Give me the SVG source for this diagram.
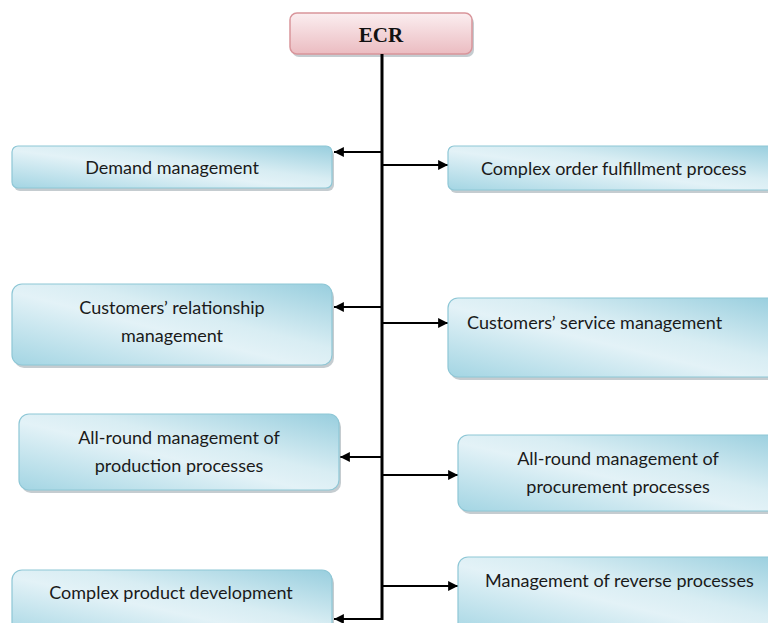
<svg xmlns="http://www.w3.org/2000/svg" width="768" height="623" viewBox="0 0 768 623">
<style>
.box{fill:url(#blue);stroke:#8ec7d6;stroke-width:1.2}
.sh{fill:#7f8f96;opacity:0.45}
.t{font-family:Lato,"Open Sans","Liberation Sans",sans-serif;font-size:18px;fill:#1a1a1a}
.c{text-anchor:middle}
.ln{stroke:#000;stroke-width:3;fill:none}
.ar{stroke:#000;stroke-width:2.2;fill:none;marker-end:url(#ah)}
</style>
<defs>
<linearGradient id="blue" x1="0" y1="1" x2="1" y2="0">
<stop offset="0" stop-color="#a3d5e3"/>
<stop offset="0.45" stop-color="#e3f2f7"/>
<stop offset="0.6" stop-color="#d8edf3"/>
<stop offset="1" stop-color="#98cede"/>
</linearGradient>
<linearGradient id="pink" x1="0" y1="0" x2="0" y2="1">
<stop offset="0" stop-color="#fbeef0"/>
<stop offset="1" stop-color="#ebbcc1"/>
</linearGradient>
<marker id="ah" viewBox="0 0 10 10" refX="10" refY="5" markerWidth="4.5" markerHeight="4.5" orient="auto" markerUnits="strokeWidth">
<path d="M0,0 L10,5 L0,10 z" fill="#000"/>
</marker>
</defs>
<rect width="768" height="623" fill="#fff"/>

<g id="ecr">
<rect class="sh" x="292" y="16" width="182" height="41" rx="7"/>
<rect x="290" y="13" width="182" height="41" rx="7" fill="url(#pink)" stroke="#d9959b" stroke-width="1.5"/>
<text x="381" y="42" text-anchor="middle" font-family="'Liberation Serif',serif" font-weight="bold" font-size="21" fill="#111">ECR</text>
</g>

<g id="connectors">
<line class="ln" x1="382" y1="54" x2="382" y2="620"/>
<line class="ar" x1="383" y1="152" x2="334" y2="152"/>
<line class="ar" x1="381" y1="165" x2="448" y2="165"/>
<line class="ar" x1="383" y1="307" x2="334" y2="307"/>
<line class="ar" x1="381" y1="323" x2="448" y2="323"/>
<line class="ar" x1="383" y1="457" x2="340" y2="457"/>
<line class="ar" x1="381" y1="475" x2="458" y2="475"/>
<line class="ar" x1="381" y1="586" x2="458" y2="586"/>
<line class="ar" x1="383" y1="619" x2="334" y2="619"/>
</g>

<g id="demand">
<rect class="sh" x="14" y="149" width="320" height="42" rx="6"/>
<rect class="box" x="12" y="146" width="320" height="42" rx="6"/>
<text class="t c" x="172" y="174">Demand management</text>
</g>

<g id="order">
<rect class="sh" x="450" y="149" width="330" height="44" rx="6"/>
<rect class="box" x="448" y="146" width="330" height="44" rx="6"/>
<text class="t" x="481" y="175">Complex order fulfillment process</text>
</g>

<g id="crm">
<rect class="sh" x="14" y="287" width="320" height="81" rx="10"/>
<rect class="box" x="12" y="284" width="320" height="81" rx="10"/>
<text class="t c" x="172" y="314">Customers’ relationship</text>
<text class="t c" x="172" y="342">management</text>
</g>

<g id="service">
<rect class="sh" x="450" y="301" width="330" height="79" rx="10"/>
<rect class="box" x="448" y="298" width="330" height="79" rx="10"/>
<text class="t" x="467" y="329">Customers’ service management</text>
</g>

<g id="production">
<rect class="sh" x="21" y="417" width="320" height="76" rx="10"/>
<rect class="box" x="19" y="414" width="320" height="76" rx="10"/>
<text class="t c" x="179" y="444">All-round management of</text>
<text class="t c" x="179" y="472">production processes</text>
</g>

<g id="procurement">
<rect class="sh" x="460" y="438" width="330" height="76" rx="10"/>
<rect class="box" x="458" y="435" width="330" height="76" rx="10"/>
<text class="t c" x="618" y="465">All-round management of</text>
<text class="t c" x="618" y="493">procurement processes</text>
</g>

<g id="product">
<rect class="sh" x="14" y="573" width="320" height="70" rx="10"/>
<rect class="box" x="12" y="570" width="320" height="70" rx="10"/>
<text class="t c" x="171" y="599">Complex product development</text>
</g>

<g id="reverse">
<rect class="sh" x="460" y="560" width="330" height="80" rx="10"/>
<rect class="box" x="458" y="557" width="330" height="80" rx="10"/>
<text class="t" x="485" y="587">Management of reverse processes</text>
</g>
</svg>
